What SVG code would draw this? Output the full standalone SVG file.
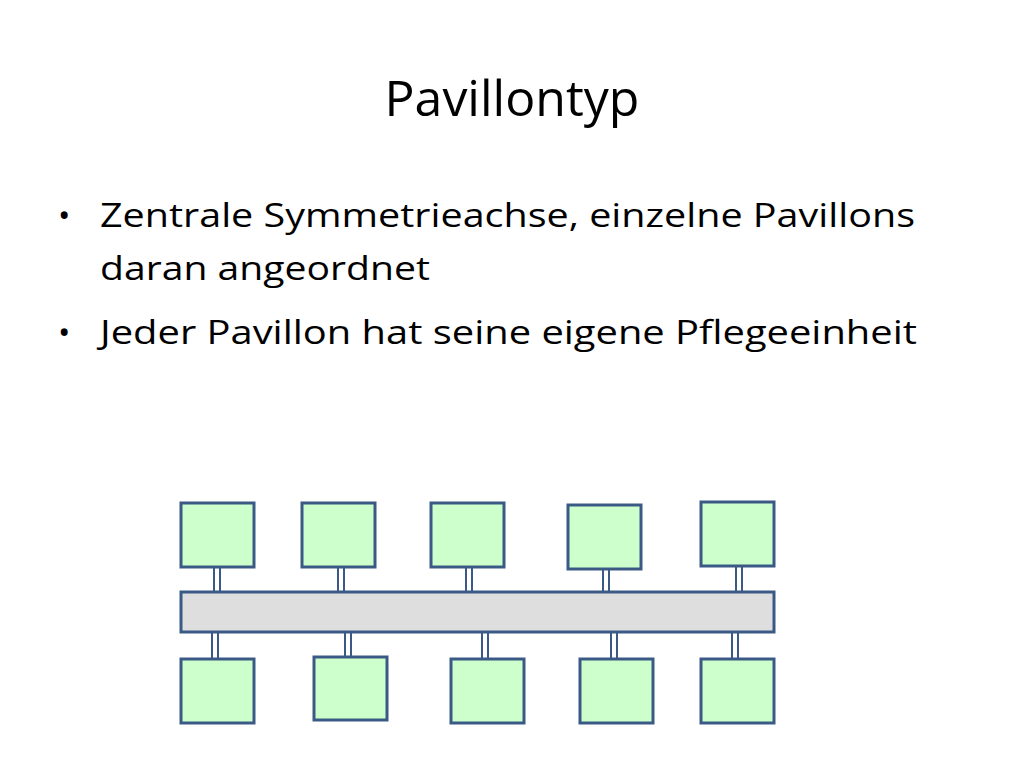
<svg xmlns="http://www.w3.org/2000/svg" width="1024" height="768" viewBox="0 0 1024 768">
<style>
text{font-family:"Open Sans","Liberation Sans",sans-serif;fill:#000}
.t{font-size:50px}
.b{font-size:33px}
.box{fill:#ccffcc;stroke:#3a5a85;stroke-width:3}
.bar{fill:#dedede;stroke:#3a5a85;stroke-width:3}
.c{fill:#fff;stroke:#3a5a85;stroke-width:2}
</style>
<rect width="1024" height="768" fill="#fff"/>
<text class="t" x="512" y="116" text-anchor="middle">Pavillontyp</text>
<text class="b" x="58" y="227">•</text>
<text class="b" x="100" y="227" textLength="815" lengthAdjust="spacingAndGlyphs">Zentrale Symmetrieachse, einzelne Pavillons</text>
<text class="b" x="100" y="280" textLength="330" lengthAdjust="spacingAndGlyphs">daran angeordnet</text>
<text class="b" x="58" y="344">•</text>
<text class="b" x="100" y="344" textLength="817" lengthAdjust="spacingAndGlyphs">Jeder Pavillon hat seine eigene Pflegeeinheit</text>
<g id="connectors">
<rect class="c" x="214" y="567" width="6" height="25"/>
<rect class="c" x="338" y="567" width="6" height="25"/>
<rect class="c" x="466" y="567" width="6" height="25"/>
<rect class="c" x="603" y="569" width="6" height="25"/>
<rect class="c" x="736" y="566" width="6" height="26"/>
<rect class="c" x="212" y="632" width="6" height="27"/>
<rect class="c" x="345" y="632" width="6" height="25"/>
<rect class="c" x="482" y="632" width="6" height="27"/>
<rect class="c" x="611" y="632" width="6" height="27"/>
<rect class="c" x="732" y="632" width="6" height="27"/>
</g>
<g id="axis"><rect class="bar" x="181" y="592" width="593" height="40"/></g>
<g id="t1"><rect class="box" x="181" y="503" width="73" height="64"/></g>
<g id="t2"><rect class="box" x="302" y="503" width="73" height="64"/></g>
<g id="t3"><rect class="box" x="431" y="503" width="73" height="64"/></g>
<g id="t4"><rect class="box" x="568" y="505" width="73" height="64"/></g>
<g id="t5"><rect class="box" x="701" y="502" width="73" height="64"/></g>
<g id="b1"><rect class="box" x="181" y="659" width="73" height="64"/></g>
<g id="b2"><rect class="box" x="314" y="657" width="73" height="63"/></g>
<g id="b3"><rect class="box" x="451" y="659" width="73" height="64"/></g>
<g id="b4"><rect class="box" x="580" y="659" width="73" height="64"/></g>
<g id="b5"><rect class="box" x="701" y="659" width="73" height="64"/></g>
</svg>
